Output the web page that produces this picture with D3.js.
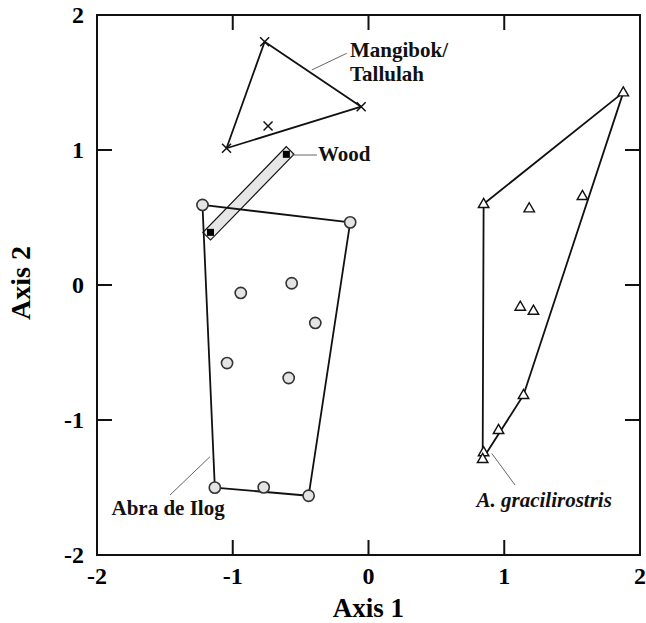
<!DOCTYPE html>
<html><head><meta charset="utf-8">
<script src="https://cdn.jsdelivr.net/npm/d3@7"></script>
<style>html,body{margin:0;padding:0;background:#fff}svg{display:block}</style>
</head><body>
<svg id="c" width="646" height="623"></svg>
<script>
// ---- data ----
const mangibokX = [-0.765, -0.054, -1.046, -0.74];
const mangibokY = [1.802, 1.321, 1.013, 1.178];
const woodX = [-0.605, -1.164];
const woodY = [0.968, 0.39];
const abraX = [-1.223, -0.135, -0.941, -0.566, -0.392, -1.042, -0.588, -1.132, -0.772, -0.441];
const abraY = [0.593, 0.464, -0.059, 0.013, -0.281, -0.578, -0.689, -1.501, -1.499, -1.561];
const gracX = [1.877, 0.848, 1.184, 1.576, 1.118, 1.215, 1.142, 0.958, 0.848, 0.841];
const gracY = [1.427, 0.6, 0.568, 0.659, -0.161, -0.191, -0.815, -1.074, -1.239, -1.289];
const tickVals = [-2, -1, 0, 1, 2];
const innerTicks = [-1, 0, 1];
const xTitle = "Axis 1", yTitle = "Axis 2";

const svg = d3.select("#c");
const font = "'Liberation Serif','Times New Roman',serif";
const x = d3.scaleLinear().domain([-2, 2]).range([97, 640]);
const y = d3.scaleLinear().domain([-2, 2]).range([555, 15]);
const zip = (X, Y) => X.map((v, i) => [x(v), y(Y[i])]);

// frame
svg.append("rect").attr("x", x(-2)).attr("y", y(2)).attr("width", x(2) - x(-2)).attr("height", y(-2) - y(2))
  .attr("fill", "none").attr("stroke", "#111").attr("stroke-width", 2);

// inner ticks
const TL = 15;
innerTicks.forEach(t => {
  svg.append("line").attr("x1", x(t)).attr("x2", x(t)).attr("y1", y(-2)).attr("y2", y(-2) - TL).attr("stroke", "#111").attr("stroke-width", 2);
  svg.append("line").attr("x1", x(t)).attr("x2", x(t)).attr("y1", y(2)).attr("y2", y(2) + TL).attr("stroke", "#111").attr("stroke-width", 2);
  svg.append("line").attr("y1", y(t)).attr("y2", y(t)).attr("x1", x(-2)).attr("x2", x(-2) + TL).attr("stroke", "#111").attr("stroke-width", 2);
  svg.append("line").attr("y1", y(t)).attr("y2", y(t)).attr("x1", x(2)).attr("x2", x(2) - TL).attr("stroke", "#111").attr("stroke-width", 2);
});
// tick labels
tickVals.forEach(t => {
  svg.append("text").attr("x", x(t)).attr("y", 584).attr("text-anchor", "middle")
    .attr("font-family", font).attr("font-weight", "bold").attr("font-size", 24).text(t);
  svg.append("text").attr("x", 84).attr("y", y(t)).attr("dy", "0.34em").attr("text-anchor", "end")
    .attr("font-family", font).attr("font-weight", "bold").attr("font-size", 24).text(t);
});
svg.append("text").attr("x", x(0)).attr("y", 617).attr("text-anchor", "middle")
  .attr("font-family", font).attr("font-weight", "bold").attr("font-size", 27).text(xTitle);
svg.append("text").attr("transform", `translate(30,${y(0) - 2}) rotate(-90)`).attr("text-anchor", "middle")
  .attr("font-family", font).attr("font-weight", "bold").attr("font-size", 28).text(yTitle);

// wood band
const wp = zip(woodX, woodY);
svg.append("line").attr("x1", wp[0][0]).attr("y1", wp[0][1]).attr("x2", wp[1][0]).attr("y2", wp[1][1])
  .attr("stroke", "#111").attr("stroke-width", 12).attr("stroke-linecap", "square");
svg.append("line").attr("x1", wp[0][0]).attr("y1", wp[0][1]).attr("x2", wp[1][0]).attr("y2", wp[1][1])
  .attr("stroke", "#e6e6e6").attr("stroke-width", 9.6).attr("stroke-linecap", "square");
wp.forEach(p => svg.append("rect").attr("x", p[0] - 3.5).attr("y", p[1] - 3.5).attr("width", 7).attr("height", 7).attr("fill", "#000"));

// hulls
const line = d3.line();
[zip(mangibokX, mangibokY), zip(abraX, abraY), zip(gracX, gracY)].forEach(pts => {
  const h = d3.polygonHull(pts);
  svg.append("path").attr("d", line(h) + "Z").attr("fill", "none").attr("stroke", "#111").attr("stroke-width", 1.8).attr("stroke-linejoin", "round");
});

// markers
zip(abraX, abraY).forEach(p => svg.append("circle").attr("cx", p[0]).attr("cy", p[1]).attr("r", 5.6)
  .attr("fill", "#e4e4e4").attr("stroke", "#333").attr("stroke-width", 1.6));
const tri = d3.symbol().type(d3.symbolTriangle).size(48);
zip(gracX, gracY).forEach(p => svg.append("path").attr("d", tri()).attr("transform", `translate(${p[0]},${p[1] + 0.5})`)
  .attr("fill", "#fff").attr("stroke", "#111").attr("stroke-width", 1.4));
zip(mangibokX, mangibokY).forEach(p => {
  const s = 4.5;
  svg.append("path").attr("d", `M${p[0] - s},${p[1] - s}L${p[0] + s},${p[1] + s}M${p[0] - s},${p[1] + s}L${p[0] + s},${p[1] - s}`)
    .attr("stroke", "#111").attr("stroke-width", 1.5);
});

// annotations
const lead = (x1, y1, x2, y2) => svg.append("line").attr("x1", x1).attr("y1", y1).attr("x2", x2).attr("y2", y2).attr("stroke", "#666").attr("stroke-width", 1);
lead(311.7, 70, 346.7, 53.3);
lead(292, 155, 317, 155);
lead(170, 495, 210, 456.7);
lead(491.7, 453.3, 515, 485);
const lab = (tx, ty, t, it) => svg.append("text").attr("x", tx).attr("y", ty).attr("font-family", font)
  .attr("font-weight", "bold").attr("font-style", it ? "italic" : "normal").attr("font-size", 21).attr("fill", "#111").text(t);
lab(350, 57, "Mangibok/");
lab(350, 80.5, "Tallulah");
lab(318, 160.5, "Wood");
lab(111.5, 515, "Abra de Ilog");
lab(476.5, 507, "A. gracilirostris", true);
</script>
</body></html>
